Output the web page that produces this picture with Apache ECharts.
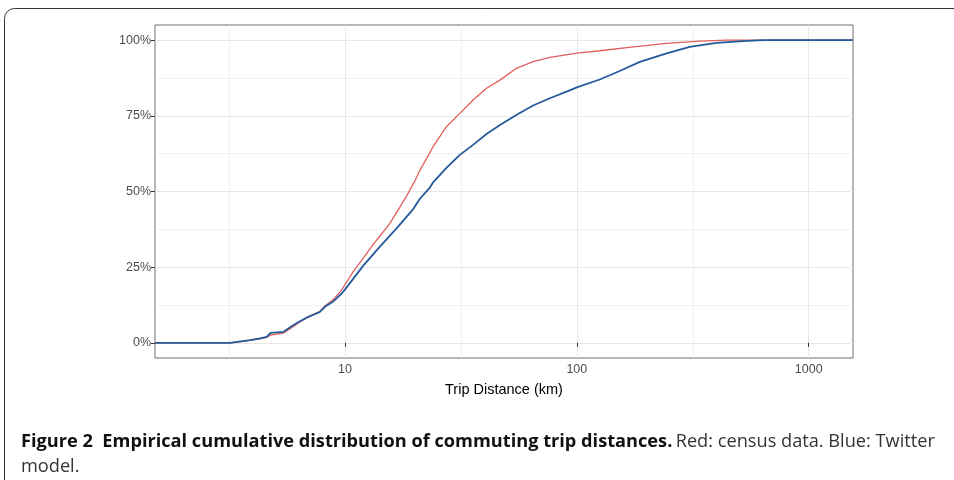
<!DOCTYPE html>
<html>
<head>
<meta charset="utf-8">
<script src="https://cdn.jsdelivr.net/npm/echarts@6/dist/echarts.min.js"></script>
<style>
  html, body { margin: 0; padding: 0; background: #fff; }
  #chart { width: 954px; height: 480px; }
</style>
</head>
<body>
<div id="chart"></div>
<script>
// census (red) ecdf, distance km / cumulative %
const censusKm = [1.52, 3.2, 3.26, 3.9, 4.3, 4.6, 4.78, 5.42, 5.89, 6.29, 6.95, 7.8, 8.2, 8.91, 9.68, 10,
  10.86, 12, 13.24, 15.63, 18.45, 20.03, 21.05, 24, 27.4, 31.3, 35.7, 40.8, 46.6, 54.9, 64.8, 76.5,
  100, 125.7, 175, 244, 339, 442, 1550]
const censusPct = [0, 0, 0.4, 0.8, 1.3, 1.8, 2.6, 3.2, 5.0, 6.6, 8.6, 10.4, 12.2, 14.3, 17.5, 19.2,
  23.5, 28, 32.5, 39.5, 48.5, 53.5, 57, 64.8, 71.4, 75.8, 80.2, 84.1, 86.8, 90.7, 92.9, 94.3,
  95.7, 96.5, 97.8, 98.9, 99.7, 100, 100]

// twitter model (blue)
const twitterKm = [1.52, 3.2, 3.26, 3.9, 4.3, 4.6, 4.78, 5.42, 5.89, 6.29, 6.95, 7.8, 8.2, 8.91, 9.68, 10,
  12, 14.15, 16.7, 19.7, 21.05, 23.24, 24, 27.4, 31.3, 35.7, 40.8, 46.6, 55.8, 64.8, 76.5, 90.3,
  100, 125.7, 153, 187, 244, 307, 400, 521, 636, 1550]
const twitterPct = [0, 0, 0.5, 0.9, 1.5, 2.0, 3.3, 3.6, 5.5, 6.8, 8.6, 10.2, 11.9, 13.7, 16.3, 17.6,
  25.5, 31.8, 37.8, 44.2, 47.6, 51.3, 53, 57.8, 62.1, 65.4, 69, 72, 75.6, 78.4, 80.8, 83,
  84.4, 87, 89.8, 92.8, 95.6, 97.8, 99.1, 99.7, 100, 100]

const xTicks = [10, 100, 1000]
const xMinorTicks = [3.1623, 31.623, 316.23]
const yTicks = [0, 25, 50, 75, 100]
const yMinorTicks = [12.5, 37.5, 62.5, 87.5]

const toPoints = (km, pct) => km.map((k, i) => [Math.log10(k), pct[i]])

const xMin = 0.181
const xMax = 3.191

const chart = echarts.init(document.getElementById('chart'))

const labelStyle = {
  color: '#4d4d4d',
  fontSize: 12.5,
  fontFamily: 'Liberation Sans'
}

chart.setOption({
  animation: false,
  backgroundColor: '#fff',
  grid: {
    left: 155,
    right: 101,
    top: 25,
    bottom: 122,
    show: true,
    borderColor: '#6e6e6e',
    borderWidth: 1,
    backgroundColor: '#fff'
  },
  xAxis: [
    {
      // minor grid
      type: 'value',
      min: xMin,
      max: xMax,
      position: 'bottom',
      axisLine: {show: false},
      axisLabel: {show: false},
      axisTick: {show: false, customValues: xMinorTicks.map(Math.log10)},
      splitLine: {show: true, lineStyle: {color: '#eeeeee', width: 0.8}}
    },
    {
      type: 'value',
      min: xMin,
      max: xMax,
      position: 'bottom',
      axisLine: {show: false},
      axisTick: {
        show: true,
        length: 4,
        customValues: xTicks.map(Math.log10),
        lineStyle: {color: '#333', width: 1}
      },
      axisLabel: Object.assign({
        margin: 5,
        customValues: xTicks.map(Math.log10),
        formatter: v => String(Math.round(Math.pow(10, v)))
      }, labelStyle),
      splitLine: {show: true, lineStyle: {color: '#e8e8e8', width: 1}},
      name: 'Trip Distance (km)',
      nameLocation: 'middle',
      nameGap: 24,
      nameTextStyle: {color: '#000', fontSize: 14.5, fontFamily: 'Liberation Sans'}
    }
  ],
  yAxis: [
    {
      type: 'value',
      min: -5,
      max: 105,
      axisLine: {show: false},
      axisLabel: {show: false},
      axisTick: {show: false, customValues: yMinorTicks},
      splitLine: {show: true, lineStyle: {color: '#eeeeee', width: 0.8}}
    },
    {
      type: 'value',
      min: -5,
      max: 105,
      position: 'left',
      axisLine: {show: false},
      axisTick: {
        show: true,
        length: 4,
        customValues: yTicks,
        lineStyle: {color: '#333', width: 1}
      },
      axisLabel: Object.assign({
        margin: 4,
        customValues: yTicks,
        formatter: v => v + '%'
      }, labelStyle),
      splitLine: {show: true, lineStyle: {color: '#e8e8e8', width: 1}}
    }
  ],
  series: [
    {
      name: 'Census',
      type: 'line',
      xAxisIndex: 0,
      yAxisIndex: 0,
      showSymbol: false,
      data: toPoints(censusKm, censusPct),
      lineStyle: {color: '#e0605e', width: 1.3},
      itemStyle: {color: '#e0605e'}
    },
    {
      name: 'Twitter',
      type: 'line',
      xAxisIndex: 0,
      yAxisIndex: 0,
      showSymbol: false,
      data: toPoints(twitterKm, twitterPct),
      lineStyle: {color: '#24599b', width: 1.8},
      itemStyle: {color: '#24599b'}
    }
  ],
  graphic: [
    {
      type: 'rect',
      shape: {x: 4.5, y: 8.5, width: 1000, height: 600, r: 10},
      style: {fill: 'none', stroke: '#333', lineWidth: 1},
      silent: true
    },
    {
      type: 'text',
      left: 21,
      top: 429,
      style: {
        text: '{b|Figure 2  Empirical cumulative distribution of commuting trip distances.} {r|Red: census data. Blue: Twitter}\n{r|model.}',
        lineHeight: 25,
        rich: {
          b: {fontFamily: 'Open Sans', fontWeight: 'bold', fontSize: 18.2, fill: '#111', lineHeight: 25},
          r: {fontFamily: 'Open Sans', fontSize: 18.2, fill: '#333', lineHeight: 25}
        }
      }
    }
  ]
})
</script>
</body>
</html>
